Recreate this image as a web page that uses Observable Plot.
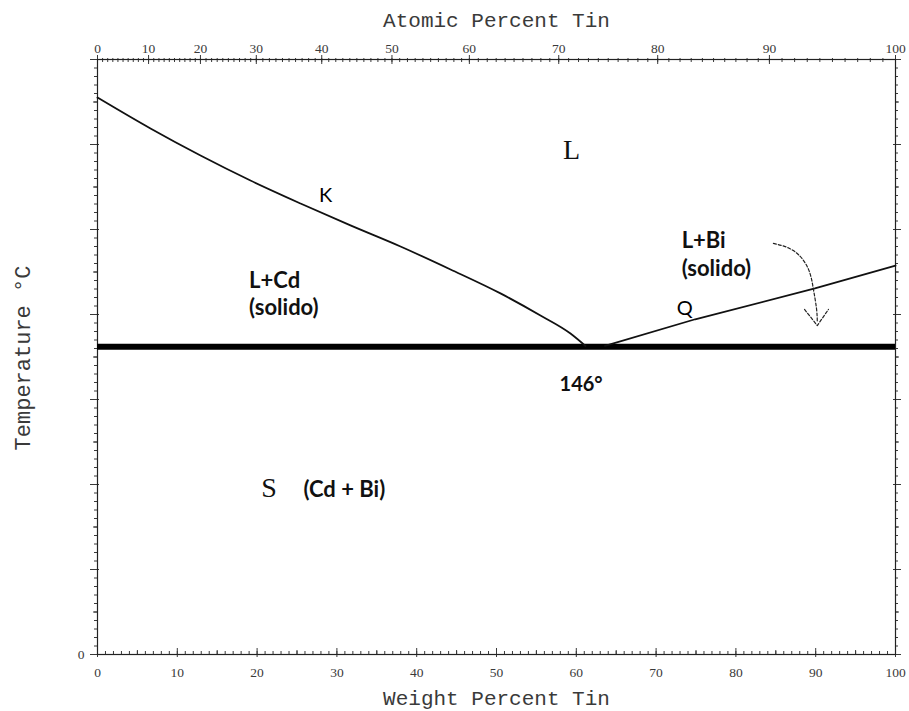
<!DOCTYPE html>
<html><head><meta charset="utf-8">
<script src="https://cdn.jsdelivr.net/npm/d3@7"></script>
<script src="https://cdn.jsdelivr.net/npm/@observablehq/plot@0.6"></script>
<style>body{margin:0;background:#fff;} #chart svg{display:block}</style>
</head><body><div id="chart"></div>
<script>
// ---- axis tick data ----
const weightTicks = [0, 10, 20, 30, 40, 50, 60, 70, 80, 90, 100];
const atomicTicks = [0, 10, 20, 30, 40, 50, 60, 70, 80, 90, 100];
const atomicTickWeight = [0, 6.4, 12.9, 19.9, 28.1, 36.9, 46.6, 57.8, 70.2, 84.2, 100];
const tempMajorTicks = [0, 50, 100, 150, 200, 250, 300, 350];

// ---- curves (weight % Sn, temperature °C) ----
const liqLeftWt = [0, 6.64, 12.91, 19.17, 25.44, 31.70, 37.97, 44.24, 50.50, 55.51, 59.27, 61.15];
const liqLeftT  = [327.6, 309.4, 293.5, 278.8, 265.3, 252.4, 240.0, 226.5, 212.4, 199.4, 188.8, 181.5];
const liqRightWt = [63.6, 74.9, 89.9, 100];
const liqRightT  = [181.5, 197.2, 215.3, 228.8];
const eutecticT = 181;

// ---- annotations ----
const serifText = ["L", "S"];
const serifWt = [59.4, 21.5];
const serifT = [296.5, 98.2];
const sansText = ["K", "Q"];
const sansWt = [28.6, 73.6];
const sansT = [270, 203.5];
const boldText = ["L+Cd", "(solido)", "L+Bi", "(solido)", "(Cd + Bi)"];
const boldWt = [19.0, 19.0, 73.2, 73.2, 25.8];
const boldT = [220, 204, 243.5, 227, 96.5];
const eutecticLabel = ["146°"];
const eutecticLabelWt = [60.6];
const eutecticLabelT = [158.8];
const arrowWt = [84.7, 87.2, 89.0, 89.7, 90.1, 90.2];
const arrowT  = [241.8, 237.6, 227.6, 215.3, 203.5, 195.5];
const arrowHeadWt = [88.6, 90.2, 91.6];
const arrowHeadT  = [203, 193.5, 203];

// ---- build tables ----
const zip = (xs, ys) => xs.map((x, i) => ({x, y: ys[i]}));
const leftCurve = zip(liqLeftWt, liqLeftT);
const rightCurve = zip(liqRightWt, liqRightT);
const arrowPath = zip(arrowWt, arrowT);
const arrowHead = zip(arrowHeadWt, arrowHeadT);
const serifLabels = serifText.map((t, i) => ({t, x: serifWt[i], y: serifT[i]}));
const sansLabels = sansText.map((t, i) => ({t, x: sansWt[i], y: sansT[i]}));
const boldLabels = boldText.map((t, i) => ({t, x: boldWt[i], y: boldT[i]}));
const eutLabels = eutecticLabel.map((t, i) => ({t, x: eutecticLabelWt[i], y: eutecticLabelT[i]}));
const atomicLabelMap = new Map(atomicTickWeight.map((w, i) => [w, String(atomicTicks[i])]));

const width = 909, height = 711;
const mL = 97, mR = 14, mT = 59, mB = 57;
const W = width - mL - mR, H = height - mT - mB;

// minor ticks
const wtMinor = d3.range(0, 101, 1);
const wtMid = d3.range(5, 100, 10);
const atomicToWt = d3.scaleLinear().domain(atomicTicks).range(atomicTickWeight);
const atMinor = d3.range(0, 101, 1).map(a => atomicToWt(a));
const tMinor = d3.range(0, 351, 5);
const tMid = d3.range(25, 350, 50);

const axisColor = "#3a3a3a";
const tickFont = "Liberation Serif, serif";
const monoFont = "Liberation Mono, monospace";
const sansFont = "Lato, Open Sans, sans-serif";

const chart = Plot.plot({
  width, height,
  marginLeft: mL, marginRight: mR, marginTop: mT, marginBottom: mB,
  style: {background: "#fff", color: axisColor},
  x: {domain: [0, 100]},
  y: {domain: [0, 350]},
  marks: [
    // bottom axis ticks (inward)
    Plot.tickX(wtMinor, {x: d => d, insetTop: H - 3, stroke: axisColor}),
    Plot.tickX(wtMid, {x: d => d, insetTop: H - 4, stroke: axisColor}),
    Plot.tickX(weightTicks, {x: d => d, insetTop: H - 6, insetBottom: -3, stroke: axisColor}),
    Plot.axisX({anchor: "bottom", ticks: weightTicks, tickSize: 0, tickPadding: 13,
      tickFormat: d => String(d), fontSize: 13.5, fontFamily: tickFont, label: null}),
    // top axis ticks
    Plot.tickX(atMinor, {x: d => d, insetBottom: H - 3, insetTop: -1, stroke: axisColor}),
    Plot.tickX(atomicTickWeight, {x: d => d, insetBottom: H - 5, insetTop: -4, stroke: axisColor}),
    Plot.axisX({anchor: "top", ticks: atomicTickWeight, tickSize: 0, tickPadding: 7,
      tickFormat: d => atomicLabelMap.get(d), fontSize: 13.5, fontFamily: tickFont, label: null}),
    // left axis ticks (outward)
    Plot.tickY(tMinor, {y: d => d, insetLeft: -3, insetRight: W, stroke: axisColor}),
    Plot.tickY(tMid, {y: d => d, insetLeft: -4, insetRight: W, stroke: axisColor}),
    Plot.tickY(tempMajorTicks, {y: d => d, insetLeft: -7, insetRight: W - 2, stroke: axisColor}),
    Plot.axisY({anchor: "left", ticks: [0], tickSize: 0, tickPadding: 13,
      tickFormat: d => String(d), fontSize: 13.5, fontFamily: tickFont, label: null}),
    // right axis ticks (outward)
    Plot.tickY(tMinor, {y: d => d, insetRight: -3, insetLeft: W, stroke: axisColor}),
    Plot.tickY(tMid, {y: d => d, insetRight: -4, insetLeft: W, stroke: axisColor}),
    Plot.tickY(tempMajorTicks, {y: d => d, insetRight: -6, insetLeft: W - 2, stroke: axisColor}),
    Plot.frame({stroke: "#222", strokeWidth: 1.2}),
    // axis titles
    Plot.text(["Atomic Percent Tin"], {frameAnchor: "top", dy: -39, text: d => d, lineAnchor: "middle", textAnchor: "middle",
      fontFamily: monoFont, fontSize: 21, fill: axisColor}),
    Plot.text(["Weight Percent Tin"], {frameAnchor: "bottom", dy: 44, text: d => d, lineAnchor: "middle", textAnchor: "middle",
      fontFamily: monoFont, fontSize: 21, fill: axisColor}),
    Plot.text(["Temperature °C"], {frameAnchor: "left", dx: -75, dy: 1, rotate: -90, text: d => d, lineAnchor: "middle", textAnchor: "middle",
      fontFamily: monoFont, fontSize: 22, fill: axisColor}),
    // phase boundaries
    Plot.ruleY([eutecticT], {stroke: "#000", strokeWidth: 6}),
    Plot.line(leftCurve, {x: "x", y: "y", curve: "monotone-x", stroke: "#111", strokeWidth: 1.8}),
    Plot.line(rightCurve, {x: "x", y: "y", curve: "linear", stroke: "#111", strokeWidth: 1.8}),
    // dashed arrow
    Plot.line(arrowPath, {x: "x", y: "y", curve: "natural", stroke: "#222", strokeWidth: 1.2, strokeDasharray: "3,2"}),
    Plot.line(arrowHead, {x: "x", y: "y", stroke: "#222", strokeWidth: 1.2, strokeDasharray: "3,2"}),
    // labels
    Plot.text(serifLabels, {x: "x", y: "y", text: "t", fontFamily: "Liberation Serif, serif", fontSize: 28, fill: "#111"}),
    Plot.text(sansLabels, {x: "x", y: "y", text: "t", fontFamily: sansFont, fontSize: 20, fill: "#000"}),
    Plot.text(boldLabels, {x: "x", y: "y", text: "t", textAnchor: "start", fontFamily: sansFont, fontWeight: "bold", fontSize: 22, fill: "#111"}),
    Plot.text(eutLabels, {x: "x", y: "y", text: "t", fontFamily: sansFont, fontWeight: "bold", fontSize: 20, fill: "#111"})
  ]
});
document.getElementById("chart").appendChild(chart);
</script>
</body></html>
